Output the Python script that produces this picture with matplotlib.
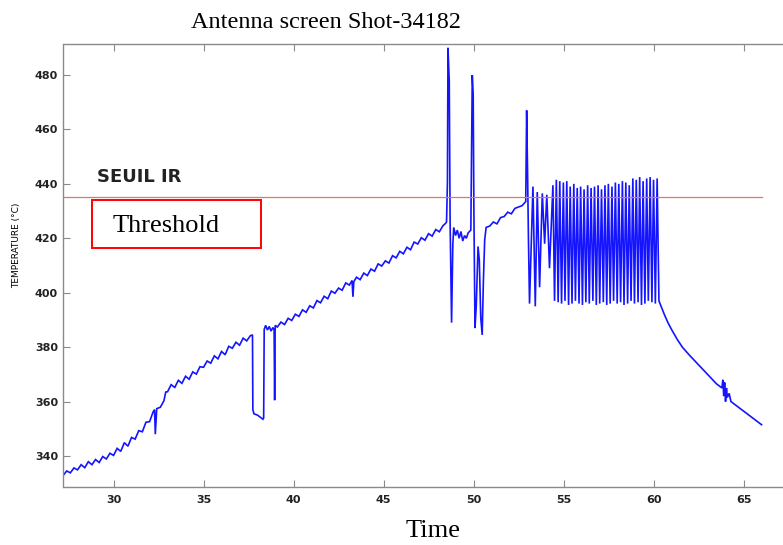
import matplotlib
matplotlib.use("Agg")
import matplotlib.pyplot as plt
import matplotlib.patches as patches
import numpy as np

# ---------------- data ----------------
heat_t = [27.22, 27.4, 27.6, 27.8, 28.0, 28.2, 28.4, 28.6, 28.8, 29.0, 29.2, 29.4,
          29.6, 29.8, 30.0, 30.2, 30.4, 30.6, 30.8, 31.0, 31.2, 31.4, 31.6, 31.8,
          32.0, 32.2, 32.28, 32.32, 32.4, 32.6, 32.8, 32.9, 33.0, 33.2, 33.4, 33.6,
          33.8, 34.0, 34.2, 34.4, 34.6, 34.8, 35.0, 35.2, 35.4, 35.6, 35.8, 36.0,
          36.2, 36.4, 36.6, 36.8, 37.0, 37.2, 37.4, 37.6, 37.72]
heat_T = [333, 334.5, 333.8, 335.6, 334.9, 336.8, 335.7, 337.9, 336.8, 338.7, 337.6, 339.8,
          338.9, 341.0, 340.2, 342.8, 341.7, 344.9, 343.6, 346.8, 346.2, 349.3, 348.9, 352.4,
          352.6, 356.2, 357.0, 348.0, 357.4, 357.9, 360.3, 363.5, 363.6, 366.2, 365.2, 367.8,
          366.7, 369.3, 368.2, 370.9, 370.1, 372.8, 372.6, 374.9, 374.1, 376.8, 375.7, 378.4,
          377.2, 380.3, 379.6, 381.8, 380.7, 383.3, 382.3, 384.2, 384.5]

dropout_t = [37.74, 37.8, 38.0, 38.2, 38.3, 38.34, 38.37, 38.45, 38.55, 38.65, 38.75,
             38.85, 38.92, 38.95, 38.98, 39.1, 39.3, 39.5, 39.7, 39.9, 40.1, 40.3, 40.5,
             40.7, 40.9, 41.1, 41.3, 41.5, 41.7, 41.9, 42.1, 42.3, 42.5, 42.7, 42.9, 43.1,
             43.25, 43.3, 43.35, 43.5, 43.7, 43.9, 44.1, 44.3, 44.5, 44.7, 44.9, 45.1,
             45.3, 45.5, 45.7, 45.9, 46.1, 46.3, 46.5, 46.7, 46.9, 47.1, 47.3, 47.5, 47.7,
             47.9, 48.1, 48.3, 48.45]
dropout_T = [357, 355.5, 355, 354, 353.5, 354, 386.5, 388, 386.3, 387.6, 385.9,
             387.2, 386.4, 360.5, 388, 387.4, 389.2, 388.3, 390.6, 389.8, 392.1, 391.3, 393.7,
             392.8, 395.2, 394.4, 397.1, 396.3, 398.7, 397.8, 400.6, 399.8, 401.7, 400.9, 403.6, 402.8,
             404.5, 398.5, 404.1, 405.7, 404.8, 407.2, 406.3, 408.7, 407.9, 410.6, 409.8, 411.7,
             410.9, 413.6, 412.8, 415.2, 414.3, 416.7, 415.8, 418.6, 417.9, 420.2, 419.3, 421.7, 420.8,
             423.2, 422.4, 424.6, 425.5]

spike_t = [48.50, 48.55, 48.58, 48.65, 48.70, 48.78, 48.85, 48.9, 49.0, 49.1, 49.2, 49.3,
           49.4, 49.5, 49.6, 49.7, 49.85, 49.93, 49.98, 50.02, 50.08, 50.15, 50.25, 50.32,
           50.4, 50.48, 50.55, 50.62, 50.7, 50.9, 51.1, 51.3, 51.5, 51.7, 51.9, 52.1, 52.3,
           52.5, 52.7, 52.9, 52.95, 53.0, 53.05, 53.11]
spike_T = [426, 440.8, 490, 478, 425, 389, 418, 424, 421, 423, 420, 422.5,
           419, 421, 420, 422, 423, 480, 473, 430, 387, 395, 417, 412,
           391, 384.5, 405, 419.5, 424, 424.5, 426, 425.3, 427.6, 428, 429.6, 429, 431,
           431.5, 432, 433.5, 467, 445, 420, 396]

osc_t = [53.30, 53.43, 53.54, 53.67, 53.82, 53.95, 54.07, 54.22,
         54.41, 54.50, 54.60, 54.70, 54.79, 54.89, 54.99, 55.08, 55.18, 55.28,
         55.37, 55.47, 55.57, 55.66, 55.76, 55.86, 55.95, 56.05, 56.14, 56.24,
         56.34, 56.43, 56.53, 56.63, 56.72, 56.82, 56.92, 57.01, 57.11, 57.21,
         57.30, 57.40, 57.49, 57.59, 57.69, 57.78, 57.88, 57.98, 58.07, 58.17,
         58.27, 58.36, 58.46, 58.56, 58.65, 58.75, 58.85, 58.94, 59.04, 59.14,
         59.23, 59.33, 59.42, 59.52, 59.62, 59.71, 59.81, 59.91, 60.00, 60.10,
         60.20]
osc_T = [439, 395, 437, 402, 436.5, 418, 436, 409,
         439.5, 397, 441.5, 396.5, 441, 396, 440.5, 397, 441, 395.5,
         439, 396, 440, 397, 438.5, 396, 439, 395.5, 438, 396.5,
         439.5, 396, 438.5, 397, 439, 395.5, 439.5, 396, 438, 396.5,
         439.5, 395.5, 440, 396, 439, 397, 440.5, 396, 440, 396.5,
         441, 395.5, 440.5, 396, 439.5, 397, 442, 396, 441.5, 396.5,
         442.5, 395.5, 441, 396, 442, 397, 442.5, 396.5, 441.5, 396,
         442]

cool_t = [60.30, 60.45, 60.6, 60.8, 61.0, 61.3, 61.6, 62.0, 62.5, 63.0, 63.5, 63.8, 63.85,
          63.9, 63.95, 64.0, 64.05, 64.1, 64.2, 64.3, 64.4, 64.8, 65.2, 65.6, 66.0]
cool_T = [397, 394.5, 392, 389, 386.5, 383, 380, 377, 373.5, 370, 366.5, 365, 368,
          362, 367, 360, 365, 361.5, 363, 360, 359.5, 357.5, 355.5, 353.5, 351.5]

threshold = 435
threshold_span = [27.22, 66.0]
x_ticks = [30, 35, 40, 45, 50, 55, 60, 65]
y_ticks = [340, 360, 380, 400, 420, 440, 460, 480]

# ---------------- figure ----------------
W, H = 783, 545
fig = plt.figure(figsize=(W / 100, H / 100), dpi=100)
ax = fig.add_axes([63.5 / W, 1 - 487 / H, 1 - 63.5 / W, (487 - 44) / H])

t_all = np.concatenate([heat_t, dropout_t, spike_t, osc_t, cool_t])
T_all = np.concatenate([heat_T, dropout_T, spike_T, osc_T, cool_T])
ax.plot(t_all, T_all, color="#1414ff", lw=1.2, solid_joinstyle="miter")

ax.plot(threshold_span, [threshold, threshold], color="#e87070", lw=0.9)

ax.set_xlim(27.22, 27.22 + (W - 63.5) / 18.0)
ax.set_ylim(328.6, 491.4)
ax.set_xticks(x_ticks)
ax.set_yticks(y_ticks)

for s in ["left", "bottom", "top"]:
    ax.spines[s].set_color("#8a8a8a")
    ax.spines[s].set_linewidth(1.0)
ax.spines["right"].set_visible(False)
ax.tick_params(direction="in", length=5, width=0.8, color="#8a8a8a",
               top=True, right=False, labelsize=8, pad=4)
for lab in ax.get_xticklabels() + ax.get_yticklabels():
    lab.set_fontweight("bold")
    lab.set_family("DejaVu Sans")
    lab.set_color("#222222")
ax.tick_params(axis="x", pad=6)

ax.set_ylabel("TEMPERATURE (°C)", family=["Liberation Sans Narrow", "DejaVu Sans"],
              fontsize=6.5, labelpad=10)
ax.yaxis.set_label_coords(-(63.5 - 21) / (W - 63.5), (487 - 245) / (487 - 44))

ax.text(29.08, 442.5, "SEUIL IR", family="DejaVu Sans", fontweight="bold",
        fontsize=13, va="center", ha="left", color="#222222")

rect = patches.Rectangle((28.80, 416.4), 38.19 - 28.80, 434.1 - 416.4,
                         fill=False, edgecolor="#ff0000", lw=1.4)
ax.add_patch(rect)
ax.text(29.97, 424.5, "Threshold", family="Liberation Serif", fontsize=19,
        va="center", ha="left", color="black")

fig.text(326 / W, 1 - 22 / H, "Antenna screen Shot-34182", family="Liberation Serif",
         fontsize=17.5, ha="center", va="center")
fig.text(433 / W, 1 - 531 / H, "Time", family="Liberation Serif",
         fontsize=19, ha="center", va="center")

fig.savefig("out.png", dpi=100)
